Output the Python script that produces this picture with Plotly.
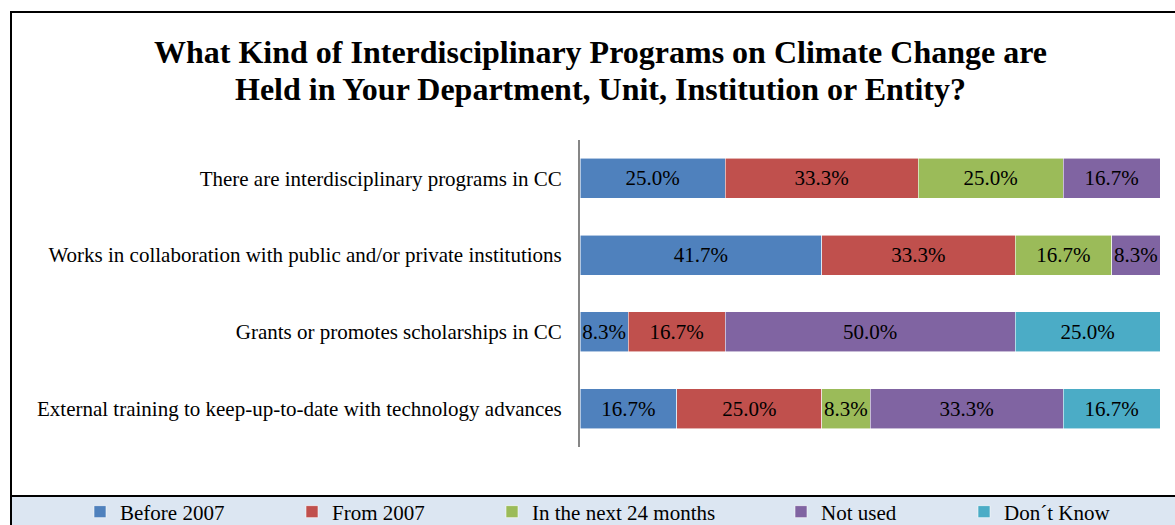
import plotly.graph_objects as go

categories = [
    "There are interdisciplinary programs in CC",
    "Works in collaboration with public and/or private institutions",
    "Grants or promotes scholarships in CC",
    "External training to keep-up-to-date with technology advances",
]
series_names = ["Before 2007", "From 2007", "In the next 24 months", "Not used", "Don\u00b4t Know"]
before_2007 = [25.0, 41.7, 8.3, 16.7]
from_2007 = [33.3, 33.3, 16.7, 25.0]
next_24_months = [25.0, 16.7, None, 8.3]
not_used = [16.7, 8.3, 50.0, 33.3]
dont_know = [None, None, 25.0, 16.7]
series_values = [before_2007, from_2007, next_24_months, not_used, dont_know]
colors = ["#4F81BD", "#C0504D", "#9BBB59", "#8064A2", "#4BACC6"]

W, H = 1175, 525
L, R, T, B = 580, 15, 140, 78
PW, PH = W - L - R, H - T - B


def px_x(x):
    return (x - L) / PW


def px_y(y):
    return (H - B - y) / PH


FONT = "Liberation Serif, Times New Roman, serif"

fig = go.Figure()
legend_left = [80, 292, 492, 781, 964]
for i, (name, vals, col) in enumerate(zip(series_names, series_values, colors)):
    lname = "legend" if i == 0 else f"legend{i+1}"
    fig.add_trace(go.Bar(
        y=categories, x=vals, name=name, orientation="h",
        marker=dict(color=col, line=dict(color="rgba(255,255,255,0.7)", width=0.8)),
        texttemplate="%{x:.1f}%", textposition="inside", insidetextanchor="middle",
        constraintext="none",
        textfont=dict(family=FONT, size=21, color="black"),
        hoverinfo="skip",
        legend=lname,
    ))

layout_legends = {}
for i, lx in enumerate(legend_left):
    lname = "legend" if i == 0 else f"legend{i+1}"
    layout_legends[lname] = dict(
        xref="container", yref="container",
        x=lx / W, y=1 - 512 / H, xanchor="left", yanchor="middle",
        orientation="h", bgcolor="rgba(0,0,0,0)",
        font=dict(family=FONT, size=21, color="black"),
        borderwidth=0,
    )

fig.update_layout(
    width=W, height=H,
    margin=dict(l=L, r=R, t=T, b=B),
    barmode="stack", bargap=0.48,
    paper_bgcolor="white", plot_bgcolor="white",
    showlegend=True,
    xaxis=dict(range=[0, 100], visible=False, fixedrange=True),
    yaxis=dict(
        autorange="reversed", showline=True, linecolor="#868686", linewidth=2,
        ticks="", showgrid=False, ticklabelstandoff=12,
        tickfont=dict(family=FONT, size=21, color="black"),
    ),
    **layout_legends,
)

# frame and legend band
fig.add_shape(type="rect", xref="paper", yref="paper",
              x0=px_x(11), x1=px_x(1190), y0=px_y(540), y1=px_y(496),
              fillcolor="#DCE6F2", line=dict(color="black", width=2), layer="below")
fig.add_shape(type="rect", xref="paper", yref="paper",
              x0=px_x(11), x1=px_x(1190), y0=px_y(540), y1=px_y(12),
              fillcolor="rgba(0,0,0,0)", line=dict(color="black", width=2), layer="above")

title_lines = [
    "What Kind of Interdisciplinary Programs on Climate Change are",
    "Held in Your Department, Unit, Institution or Entity?",
]
for line, yc in zip(title_lines, [52, 89]):
    fig.add_annotation(text=f"<b>{line}</b>", xref="paper", yref="paper",
                       x=px_x(600), y=px_y(yc), xanchor="center", yanchor="middle",
                       showarrow=False, font=dict(family=FONT, size=32, color="black"))

fig.write_html(
    "out.html",
    config={"displayModeBar": False},
    post_script="document.body.style.margin='0';document.body.style.overflow='hidden';",
)
